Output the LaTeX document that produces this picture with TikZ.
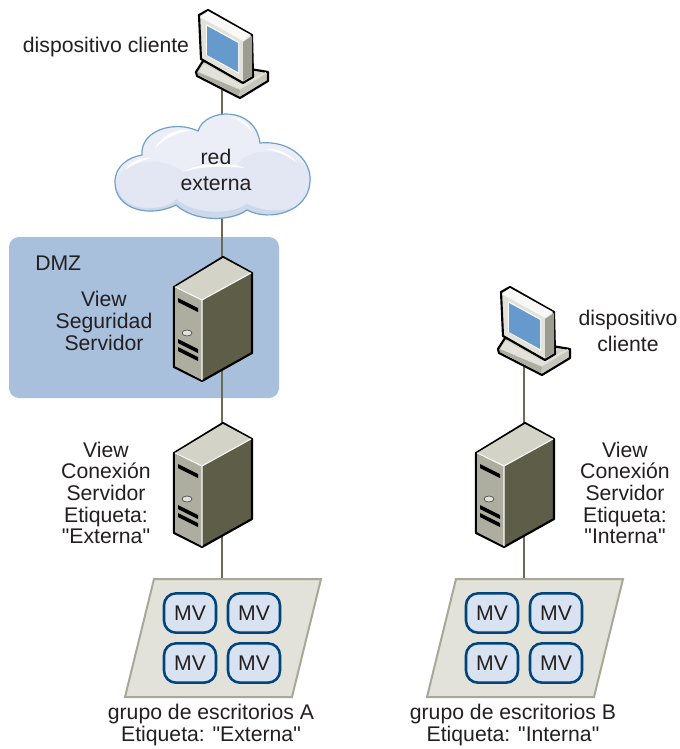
\documentclass[tikz,border=0pt]{standalone}
\usepackage{fontspec}
\newfontfamily\lblfont{Liberation Sans}
\definecolor{txt}{HTML}{231F20}
\definecolor{dmz}{HTML}{A9C0DD}
\definecolor{wire}{HTML}{6B6B55}
\definecolor{padfill}{HTML}{E2E2DA}
\definecolor{padline}{HTML}{A8A898}
\definecolor{vmline}{HTML}{00447C}
\definecolor{vmfill}{HTML}{D9E2F1}
\definecolor{cloudfill}{HTML}{E2E7F3}
\definecolor{cloudline}{HTML}{6FA0CC}
\definecolor{cloudshade}{HTML}{CDD9EA}
\definecolor{srvdark}{HTML}{5E5E48}
\definecolor{srvfront}{HTML}{ADADA0}
\definecolor{srvtop}{HTML}{D3D3C8}
\definecolor{screen}{HTML}{6699CC}
\tikzset{
  x=0.75pt,y=-0.75pt,
  lbl/.style={font=\lblfont\fontsize{15.9}{16.2}\selectfont,text=txt,align=center,inner sep=0pt},
  wireline/.style={draw=wire,line width=1.6pt},
  vm/.style={draw=vmline,fill=vmfill,line width=1.9pt,rounded corners=9pt,minimum width=39pt,minimum height=29.5pt,inner sep=0pt,font=\lblfont\fontsize{15.9}{16}\selectfont,text=txt},
  pad/.style={draw=padline,fill=padfill,line width=1.5pt,line join=miter},
  outl/.style={draw=black,line width=1.6pt,line join=round},
  pics/monitor/.style={code={
    \path[outl,fill=srvtop] (196,72)--(203,61)--(268,72)--(268,81)--(240,98)--(197,76)--cycle;
    \fill[padfill] (198,73)--(204,64)--(240,84)--(266,72)--(266,73)--(240,89)--cycle;
    \fill[srvfront] (198,75)--(239,96)--(240,90)--(198,72)--cycle;
    \fill[srvfront!70] (240,96)--(266,80)--(266,74)--(240,90)--cycle;
    \path[outl,fill=padfill] (199,15)--(208,10)--(252,35)--(253,77)--(243,83)--(201,59)--cycle;
    \fill[white!85!srvtop] (200,17)--(208,11)--(251,35)--(243,41)--cycle;
    \fill[srvfront!90!black] (243,42)--(252,36)--(252,76)--(243,81)--cycle;
    \fill[white!90!padfill] (206,24)--(239,42)--(239,74)--(206,55)--cycle;
    \fill[screen] (207,26)--(238,43)--(238,72)--(207,55)--cycle;
  }},
  pics/server/.style={code={
    \path[outl,fill=srvdark] (223,257)--(252,273)--(252,353)--(202,381)--(174,367)--(174,287)--cycle;
    \fill[srvfront] (175,288)--(202,300)--(202,380)--(175,366)--cycle;
    \fill[srvtop] (175,287)--(223,258)--(251,273)--(202,300)--cycle;
    \draw[white!90!srvtop,line width=.8pt] (175,287)--(202,300)--(251,273) (202,300)--(202,380);
    \fill[black] (178,298)--(198,308)--(198,312)--(178,302)--cycle;
    \fill[black] (178,339)--(198,349)--(198,353)--(178,343)--cycle;
    \fill[black] (178,347)--(198,357)--(198,361)--(178,351)--cycle;
    \path[draw=black!70,fill=padfill,line width=.5pt] (187,333) ellipse [x radius=5,y radius=3];
  }},
}
\begin{document}
\begin{tikzpicture}
\useasboundingbox (0,0) rectangle (680,749);
\fill[white] (0,0) rectangle (680,749);
\fill[dmz,rounded corners=7.5pt] (9,237) rectangle (279,398);

% anchors of the icons
\coordinate (mon1) at (222,90);
\coordinate (cloud) at (222,170);
\coordinate (srv1) at (222,320);
\coordinate (srv2) at (222,486);
\coordinate (padA) at (222,579);
\coordinate (mon2) at (524,367);
\coordinate (srv3) at (524,486);
\coordinate (padB) at (524,579);

\draw[wireline] (mon1)--(cloud);
\draw[wireline] (cloud)--(srv1);
\draw[wireline] (srv1)--(srv2);
\draw[wireline] (srv2)--(padA);
\draw[wireline] (mon2)--(srv3);
\draw[wireline] (srv3)--(padB);

% monitors
\pic at (0,0) {monitor};
\pic at (302,277) {monitor};

% cloud
\begin{scope}
\path[clip] (142,155) .. controls (140,130) and (175,120) .. (198,131)
  .. controls (205,108) and (255,105) .. (260,143)
  .. controls (290,140) and (312,160) .. (310,182)
  .. controls (308,212) and (270,222) .. (247,210)
  .. controls (230,222) and (195,222) .. (176,205)
  .. controls (150,218) and (115,210) .. (115,182)
  .. controls (115,165) and (130,157) .. (142,155) -- cycle;
\fill[cloudfill!70!white] (100,100) rectangle (320,230);
\fill[cloudfill] (115,182) .. controls (120,160) and (165,155) .. (183,172) .. controls (200,160) and (225,160) .. (235,168) .. controls (250,140) and (300,150) .. (315,180) -- (315,230) -- (100,230) -- cycle;
\fill[cloudshade] (118,190) -- (118,230) -- (308,230) -- (308,195) .. controls (300,212) and (270,215) .. (247,204) .. controls (230,215) and (195,215) .. (176,199) .. controls (170,210) and (125,215) .. (118,190) -- cycle;
\end{scope}
\fill[white] (155,148) .. controls (165,132) and (180,128) .. (193,130) .. controls (178,132) and (165,138) .. (155,148) -- cycle;
\fill[white] (232,117) .. controls (240,118) and (248,122) .. (252,132) .. controls (246,125) and (240,120) .. (232,117) -- cycle;
\fill[white] (125,170) .. controls (132,160) and (142,158) .. (150,158) .. controls (140,161) and (132,165) .. (125,170) -- cycle;
\fill[white] (266,149) .. controls (278,148) and (290,154) .. (297,163) .. controls (288,156) and (278,151) .. (266,149) -- cycle;
\fill[white] (183,172) .. controls (195,164) and (225,160) .. (245,168) .. controls (225,166) and (200,166) .. (183,172) -- cycle;
\path[draw=cloudline,line width=.9pt] (142,155) .. controls (140,130) and (175,120) .. (198,131)
  .. controls (205,108) and (255,105) .. (260,143)
  .. controls (290,140) and (312,160) .. (310,182)
  .. controls (308,212) and (270,222) .. (247,210)
  .. controls (230,222) and (195,222) .. (176,205)
  .. controls (150,218) and (115,210) .. (115,182)
  .. controls (115,165) and (130,157) .. (142,155) -- cycle;
\node[lbl] (redlbl) at (216,157) {red};
\node[lbl] (extlbl) at (216,184) {externa};

% servers
\pic at (0,0) {server};
\pic at (0,166) {server};
\pic at (302,166) {server};

% desktop pools
\path[pad] (154,579)--(321,579)--(292,697)--(125,697)--cycle;
\path[pad] (456,579)--(623,579)--(594,697)--(427,697)--cycle;
\node[vm] (a1) at (190,613) {MV};
\node[vm] (a2) at (254,613) {MV};
\node[vm] (a3) at (190,663) {MV};
\node[vm] (a4) at (254,663) {MV};
\node[vm] (b1) at (492,613) {MV};
\node[vm] (b2) at (556,613) {MV};
\node[vm] (b3) at (492,663) {MV};
\node[vm] (b4) at (556,663) {MV};

% labels
\node[lbl] (cli1) at (106,47) {dispositivo cliente};
\node[lbl,anchor=west] (dmzlbl) at (35,263) {DMZ};
\node[lbl] (seg) at (104,321) {View\\Seguridad\\Servidor};
\node[lbl] (conA) at (106,493) {View\\Conexión\\Servidor\\Etiqueta:\\"Externa"};
\node[lbl] (cli2) at (628,331) {dispositivo\\[3pt]cliente};
\node[lbl] (conB) at (625,493) {View\\Conexión\\Servidor\\Etiqueta:\\"Interna"};
\node[lbl] (grpA) at (211,725) {grupo de escritorios A\\Etiqueta: "Externa"};
\node[lbl] (grpB) at (513,725) {grupo de escritorios B\\Etiqueta: "Interna"};
\end{tikzpicture}
\end{document}
